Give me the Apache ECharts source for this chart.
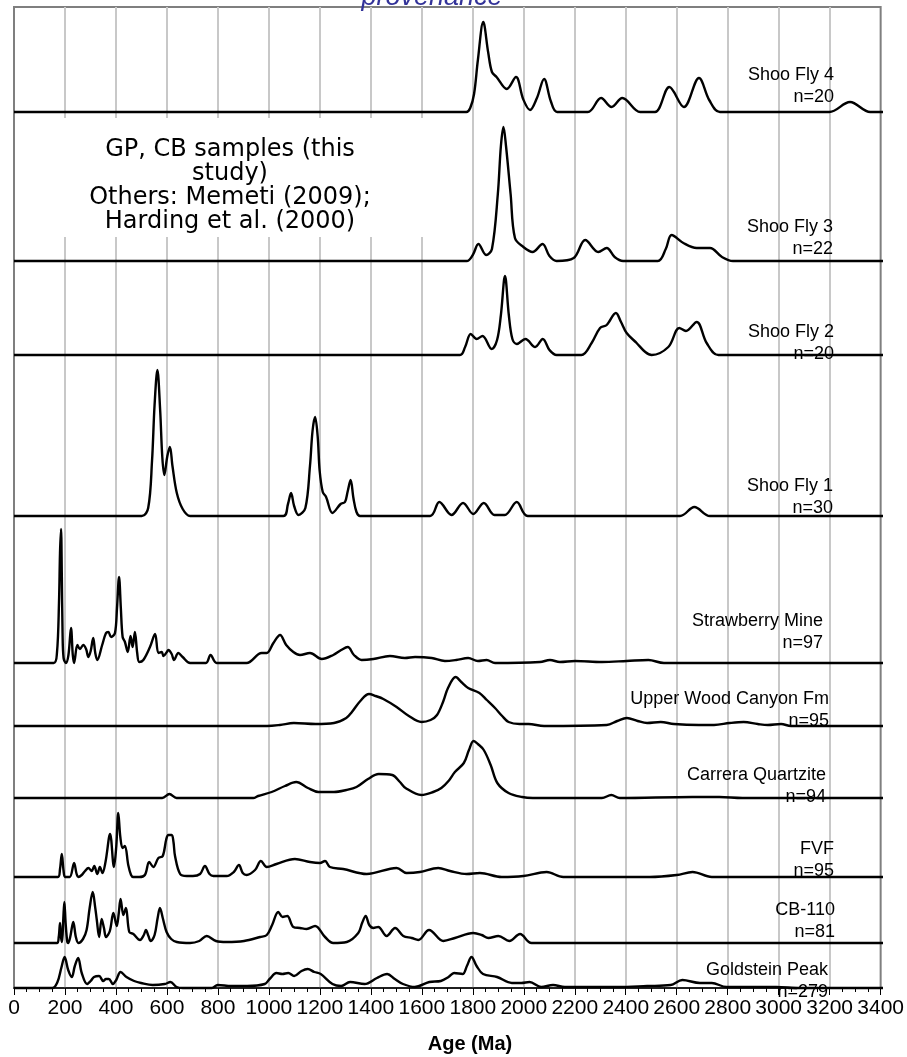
<!DOCTYPE html>
<html>
<head>
<meta charset="utf-8">
<script src="https://cdn.jsdelivr.net/npm/echarts@6/dist/echarts.min.js"></script>
<style>
	html, body { margin: 0; padding: 0; background: #fff; }
	#chart { width: 907px; height: 1057px; }
</style>
</head>
<body>
<div id="chart"></div>
<script>
// 数据: 每个样品一组年龄(Ma)和曲线高度(基线以上, 像素单位)
var sf4Age = [0, 1770, 1785, 1800, 1815, 1836, 1855, 1870, 1888, 1928, 1964, 1992, 2019, 2046, 2074, 2100, 2125, 2245, 2297, 2338, 2380, 2450, 2508, 2564, 2621, 2680, 2720, 2762, 3190, 3271, 3350, 3400];
var sf4H = [0, 0, 4, 18, 52, 90, 60, 40, 35, 23, 35, 13, 2, 14, 33, 11, 0, 0, 14, 5, 14, 0, 0, 25, 5, 34, 12, 0, 0, 10, 0, 0];

var sf3Age = [0, 1771, 1795, 1817, 1847, 1870, 1893, 1905, 1915, 1925, 1943, 1960, 1993, 2029, 2068, 2095, 2123, 2190, 2235, 2286, 2319, 2350, 2383, 2519, 2550, 2573, 2619, 2671, 2723, 2770, 2813, 3400];
var sf3H = [0, 0, 6, 17, 6, 12, 67, 115, 134, 115, 67, 23, 14, 9, 17, 5, 0, 3, 21, 9, 13, 4, 0, 0, 12, 26, 18, 13, 13, 4, 0, 0];

var sf2Age = [0, 1745, 1765, 1787, 1810, 1833, 1869, 1890, 1905, 1921, 1936, 1950, 1967, 2001, 2039, 2069, 2095, 2123, 2220, 2260, 2293, 2319, 2355, 2375, 2397, 2436, 2470, 2495, 2560, 2603, 2629, 2671, 2710, 2756, 3400];
var sf2H = [0, 0, 8, 21, 16, 19, 6, 15, 40, 79, 40, 16, 11, 16, 8, 16, 5, 0, 0, 12, 27, 30, 42, 33, 22, 12, 3, 0, 8, 27, 24, 33, 12, 0, 0];

var sf1Age = [0, 500, 525, 540, 550, 561, 572, 580, 588, 600, 610, 620, 637, 660, 689, 1054, 1072, 1084, 1096, 1113, 1140, 1158, 1168, 1178, 1188, 1196, 1208, 1221, 1246, 1278, 1295, 1305, 1317, 1328, 1340, 1354, 1628, 1664, 1712, 1757, 1797, 1838, 1880, 1920, 1967, 2010, 2606, 2662, 2723, 3400];
var sf1H = [0, 0, 8, 55, 111, 146, 105, 60, 41, 60, 69, 50, 23, 7, 0, 0, 12, 23, 10, 1, 8, 50, 85, 99, 80, 45, 24, 19, 3, 12, 14, 24, 36, 18, 4, 0, 0, 14, 1, 13, 2, 13, 1, 1, 14, 0, 0, 9, 0, 0];

var strawAge = [0, 155, 168, 176, 180, 184, 187, 190, 194, 203, 213, 223, 230, 235, 248, 258, 271, 282, 291, 300, 310, 318, 326, 345, 360, 369, 380, 395, 403, 411, 418, 425, 434, 445, 456, 464, 473, 482, 490, 506, 532, 552, 565, 578, 585, 598, 604, 617, 626, 643, 660, 689, 751, 769, 793, 910, 969, 989, 1015, 1041, 1065, 1093, 1119, 1158, 1204, 1249, 1280, 1306, 1330, 1360, 1406, 1471, 1529, 1569, 1634, 1686, 1730, 1777, 1815, 1849, 1882, 2058, 2097, 2136, 2195, 2300, 2397, 2482, 2543, 3400];
var strawH = [0, 0, 10, 60, 110, 134, 90, 30, 5, 0, 8, 35, 8, 0, 18, 14, 18, 14, 6, 12, 25, 10, 3, 18, 30, 31, 26, 30, 55, 86, 55, 26, 21, 11, 27, 16, 31, 10, 1, 3, 16, 29, 10, 11, 7, 11, 13, 9, 3, 10, 6, 0, 0, 8, 0, 0, 10, 10, 20, 28, 18, 11, 8, 10, 4, 8, 13, 16, 8, 3, 4, 7, 5, 6, 5, 2, 3, 5, 2, 3, 0, 1, 3, 1, 2, 1, 2, 3, 0, 0];

var uwcAge = [0, 990, 1040, 1095, 1180, 1252, 1300, 1322, 1355, 1389, 1415, 1445, 1497, 1545, 1594, 1630, 1655, 1680, 1698, 1728, 1750, 1777, 1821, 1850, 1882, 1910, 1935, 1978, 2013, 2074, 2319, 2360, 2398, 2440, 2477, 2530, 2582, 2680, 2739, 2800, 2855, 2910, 2949, 3001, 3040, 3400];
var uwcH = [0, 0, 1, 3, 2, 3, 8, 14, 25, 32, 30, 27, 19, 10, 4, 6, 11, 25, 38, 49, 44, 38, 33, 26, 18, 10, 4, 2, 2, 0, 1, 5, 8, 5, 3, 4, 2, 1, 1, 3, 4, 2, 1, 2, 0, 0];

var carAge = [0, 580, 608, 636, 936, 955, 1008, 1060, 1104, 1150, 1191, 1252, 1300, 1340, 1385, 1427, 1480, 1510, 1532, 1594, 1640, 1672, 1700, 1725, 1760, 1780, 1798, 1815, 1838, 1865, 1891, 1935, 1988, 2030, 2300, 2337, 2370, 2654, 2760, 2850, 3400];
var carH = [0, 0, 4, 0, 0, 2, 6, 12, 16, 10, 6, 6, 8, 11, 19, 24, 23, 16, 10, 3, 6, 10, 17, 26, 35, 48, 57, 54, 48, 33, 15, 5, 1, 0, 0, 3, 0, 1, 1, 0, 0];

var fvfAge = [0, 172, 180, 187, 194, 200, 218, 235, 245, 252, 265, 278, 291, 304, 314, 326, 336, 346, 358, 376, 391, 400, 408, 416, 425, 434, 447, 458, 467, 490, 512, 529, 545, 565, 582, 596, 604, 617, 624, 630, 650, 676, 700, 728, 747, 765, 780, 832, 860, 880, 895, 910, 943, 966, 989, 1027, 1099, 1158, 1197, 1217, 1236, 1288, 1380, 1497, 1536, 1588, 1660, 1706, 1771, 1823, 1908, 1993, 2084, 2149, 2488, 2593, 2655, 2730, 3400];
var fvfH = [0, 0, 8, 23, 6, 0, 0, 14, 3, 0, 2, 6, 9, 6, 11, 3, 10, 4, 15, 43, 10, 30, 64, 40, 29, 31, 12, 2, 0, 0, 2, 15, 10, 19, 21, 38, 42, 42, 35, 21, 3, 1, 1, 3, 11, 3, 1, 1, 5, 12, 4, 2, 7, 16, 10, 13, 18, 15, 14, 16, 10, 8, 3, 9, 4, 5, 9, 6, 3, 4, 0, 1, 5, 0, 0, 2, 5, 0, 0];

var cbAge = [0, 168, 175, 180, 184, 188, 193, 197, 202, 208, 212, 220, 232, 242, 252, 270, 284, 296, 308, 318, 324, 333, 343, 352, 360, 375, 389, 402, 410, 417, 428, 438, 451, 467, 493, 508, 516, 526, 535, 550, 562, 571, 582, 597, 615, 637, 689, 725, 754, 790, 832, 900, 963, 989, 1010, 1034, 1051, 1069, 1093, 1119, 1145, 1178, 1217, 1249, 1302, 1347, 1362, 1376, 1390, 1406, 1425, 1458, 1491, 1523, 1556, 1582, 1624, 1680, 1725, 1797, 1830, 1856, 1895, 1938, 1980, 2025, 3400];
var cbH = [0, 0, 6, 20, 6, 1, 25, 41, 20, 2, 0, 6, 21, 6, 0, 4, 13, 35, 51, 35, 23, 6, 24, 15, 6, 12, 30, 17, 30, 44, 28, 35, 11, 9, 3, 8, 13, 7, 2, 8, 25, 35, 25, 11, 4, 1, 0, 2, 7, 2, 1, 2, 6, 8, 18, 31, 26, 27, 16, 15, 14, 17, 6, 0, 1, 10, 20, 27, 18, 15, 16, 7, 15, 7, 5, 3, 13, 2, 5, 10, 8, 5, 7, 2, 9, 0, 0];

var gpAge = [0, 150, 170, 185, 198, 212, 226, 238, 251, 265, 286, 300, 313, 333, 349, 360, 371, 387, 400, 417, 440, 470, 497, 543, 590, 612, 636, 660, 774, 797, 850, 912, 981, 1000, 1027, 1050, 1073, 1096, 1125, 1149, 1175, 1200, 1246, 1280, 1315, 1372, 1420, 1460, 1490, 1522, 1568, 1625, 1670, 1700, 1722, 1755, 1772, 1790, 1810, 1835, 1890, 1948, 1985, 2017, 2063, 2109, 2155, 2224, 2362, 2477, 2569, 2615, 2684, 2730, 2788, 2983, 3076, 3400];
var gpH = [0, 0, 6, 20, 31, 18, 11, 22, 30, 15, 4, 7, 11, 12, 7, 9, 9, 4, 8, 16, 11, 7, 5, 3, 4, 6, 1, 0, 0, 3, 2, 2, 4, 9, 15, 14, 15, 12, 17, 19, 16, 14, 4, 2, 6, 4, 10, 14, 9, 4, 1, 6, 7, 11, 15, 14, 22, 31, 22, 14, 11, 5, 5, 6, 1, 3, 1, 1, 1, 2, 3, 8, 5, 5, 1, 1, 0, 0];

var names = ['Shoo Fly 4', 'Shoo Fly 3', 'Shoo Fly 2', 'Shoo Fly 1', 'Strawberry Mine', 'Upper Wood Canyon Fm', 'Carrera Quartzite', 'FVF', 'CB-110', 'Goldstein Peak'];
var counts = ['n=20', 'n=22', 'n=20', 'n=30', 'n=97', 'n=95', 'n=94', 'n=95', 'n=81', 'n=279'];
var ageTicks = [0, 3400, 200]; // min, max, interval

// 版面
var baselineY = [112, 261, 355, 516, 663, 726, 798, 877, 943, 988];
var labelPos = [[834, 75], [833, 227], [834, 332], [833, 486], [823, 621], [829, 699], [826, 775], [834, 849], [835, 910], [828, 970]];
var plotLeft = 14, plotRight = 883, plotTop = 7, W = 907, H = 1057;

var curves = [
	[sf4Age, sf4H], [sf3Age, sf3H], [sf2Age, sf2H], [sf1Age, sf1H], [strawAge, strawH],
	[uwcAge, uwcH], [carAge, carH], [fvfAge, fvfH], [cbAge, cbH], [gpAge, gpH]
];

var font = '"Liberation Sans", Arial, sans-serif';

var grids = [{
	left: plotLeft, right: W - plotRight, top: plotTop, bottom: H - baselineY[9],
	show: true, borderColor: '#7f7f7f', borderWidth: 2, backgroundColor: 'transparent'
}];
var xAxes = [{
	type: 'value', gridIndex: 0, min: ageTicks[0], max: ageTicks[1], interval: ageTicks[2],
	axisLine: { show: true, onZero: false, lineStyle: { color: '#000', width: 1.5 } },
	axisTick: { show: true, length: 7, lineStyle: { color: '#000', width: 1 } },
	minorTick: { show: true, splitNumber: 4, length: 4, lineStyle: { color: '#000', width: 1 } },
	splitLine: { show: true, showMinLine: false, showMaxLine: false, lineStyle: { color: '#c8c8c8', width: 2 } },
	axisLabel: {
		fontSize: 21, fontFamily: font, color: '#000', margin: 10,
		formatter: function(v) { return String(v); }
	}
}];
var yAxes = [{ type: 'value', gridIndex: 0, min: 0, max: 1, show: false }];
var series = [];
var graphics = [];

for (var i = 0; i < curves.length; i++) {
	var g = i + 1;
	grids.push({ left: plotLeft, right: W - plotRight, top: plotTop, bottom: H - baselineY[i] });
	xAxes.push({ type: 'value', gridIndex: g, min: ageTicks[0], max: ageTicks[1], show: false });
	yAxes.push({ type: 'value', gridIndex: g, min: 0, max: baselineY[i] - plotTop, show: false });
	var pts = [];
	for (var j = 0; j < curves[i][0].length; j++) {
		pts.push([curves[i][0][j], curves[i][1][j]]);
	}
	series.push({
		type: 'line', xAxisIndex: g, yAxisIndex: g, data: pts, smooth: 0.35,
		symbol: 'none', silent: true, clip: false, z: 5,
		lineStyle: { color: '#000', width: 2.4 }
	});
	graphics.push({
		type: 'text', x: labelPos[i][0], y: labelPos[i][1], z: 10,
		style: { text: names[i], font: '18px ' + font, fill: '#000', align: 'right', verticalAlign: 'middle' }
	});
	graphics.push({
		type: 'text', x: labelPos[i][0], y: labelPos[i][1] + 22, z: 10,
		style: { text: counts[i], font: '18px ' + font, fill: '#000', align: 'right', verticalAlign: 'middle' }
	});
}

// 文本框 (白底, 遮住网格线)
graphics.push({
	type: 'rect', z: 1, shape: { x: 16, y: 118, width: 425, height: 119 },
	style: { fill: '#fff' }
});
graphics.push({
	type: 'text', x: 230, y: 138, z: 10,
	style: {
		text: 'GP, CB samples (this\nstudy)\nOthers: Memeti (2009);\nHarding et al. (2000)',
		font: '24px "DejaVu Sans", Verdana, sans-serif', lineHeight: 24, fill: '#000',
		align: 'center', verticalAlign: 'top'
	}
});
// 标题 (上半部分被裁掉)
graphics.push({
	type: 'text', x: 432, y: 11, z: 10,
	style: { text: 'provenance', font: 'italic 27px ' + font, fill: '#333399', align: 'center', verticalAlign: 'bottom' }
});
// 横轴名称
graphics.push({
	type: 'text', x: 470, y: 1044, z: 10,
	style: { text: 'Age (Ma)', font: 'bold 20px ' + font, fill: '#000', align: 'center', verticalAlign: 'middle' }
});

var myChart = echarts.init(document.getElementById('chart'));
myChart.setOption({
	animation: false,
	backgroundColor: '#fff',
	grid: grids,
	xAxis: xAxes,
	yAxis: yAxes,
	series: series,
	graphic: graphics
});
</script>
</body>
</html>
